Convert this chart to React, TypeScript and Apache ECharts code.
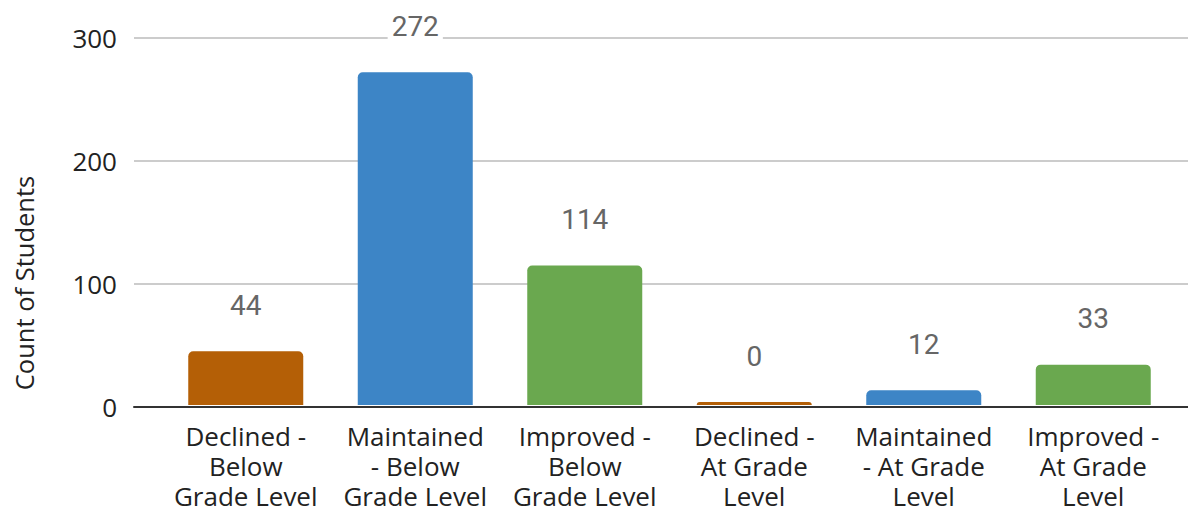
import React, { useEffect, useRef } from "react";
import * as echarts from "echarts";

const categories = [
  "Declined -\nBelow\nGrade Level",
  "Maintained\n- Below\nGrade Level",
  "Improved -\nBelow\nGrade Level",
  "Declined -\nAt Grade\nLevel",
  "Maintained\n- At Grade\nLevel",
  "Improved -\nAt Grade\nLevel",
];
const values = [44, 272, 114, 0, 12, 33];
const barColors = ["#b45f06", "#3d85c6", "#6aa84f", "#b45f06", "#3d85c6", "#6aa84f"];
const yTicks = { min: 0, max: 300, interval: 100 };
const yTitle = "Count of Students";

export default function App() {
  const ref = useRef<HTMLDivElement>(null);
  useEffect(() => {
    const chart = echarts.init(ref.current!, null, { renderer: "svg" });
    chart.setOption({
      animation: false,
      backgroundColor: "#ffffff",
      grid: [
        { left: 134, right: 0, top: 38, bottom: 104 },
        { left: 161, right: 10, top: 38, bottom: 104 },
      ],
      xAxis: [
        {
          gridIndex: 0,
          type: "value",
          min: 0,
          max: 1,
          axisLine: { show: true, lineStyle: { color: "#333333", width: 2 } },
          axisTick: { show: false },
          axisLabel: { show: false },
          splitLine: { show: false },
        },
        {
          gridIndex: 1,
          type: "category",
          data: categories,
          axisLine: { show: false },
          axisTick: { show: false },
          axisLabel: {
            interval: 0,
            margin: 16,
            fontFamily: "Open Sans",
            fontSize: 26,
            lineHeight: 30,
            color: "#222222",
          },
        },
      ],
      yAxis: [
        {
          gridIndex: 0,
          type: "value",
          min: yTicks.min,
          max: yTicks.max,
          interval: yTicks.interval,
          axisLine: { show: false },
          axisTick: { show: false },
          axisLabel: {
            margin: 17,
            fontFamily: "Open Sans",
            fontSize: 26,
            color: "#222222",
          },
          splitLine: { lineStyle: { color: "#cccccc", width: 2 } },
        },
        {
          gridIndex: 1,
          type: "value",
          min: yTicks.min,
          max: yTicks.max,
          interval: yTicks.interval,
          show: false,
          splitLine: { show: false },
        },
      ],
      graphic: [
        {
          type: "text",
          x: 24,
          y: 283,
          rotation: Math.PI / 2,
          style: {
            text: yTitle,
            fontFamily: "Open Sans",
            fontSize: 25.5,
            fill: "#222222",
            align: "center",
            verticalAlign: "middle",
          },
        },
      ],
      series: [
        {
          type: "bar",
          xAxisIndex: 1,
          yAxisIndex: 1,
          barWidth: 115,
          barMinHeight: 3,
          data: values.map((v, i) => ({
            value: v,
            itemStyle: { color: barColors[i], borderRadius: [5, 5, 0, 0] },
          })),
          label: {
            show: true,
            position: "top",
            distance: 32,
            fontFamily: "Roboto",
            fontSize: 28,
            color: "#666666",
            backgroundColor: "#ffffff",
            padding: [0, 4],
          },
        },
      ],
    });
    return () => chart.dispose();
  }, []);
  return (
    <div
      ref={ref}
      style={{ position: "fixed", left: 0, top: 0, width: 1188, height: 511 }}
    />
  );
}
